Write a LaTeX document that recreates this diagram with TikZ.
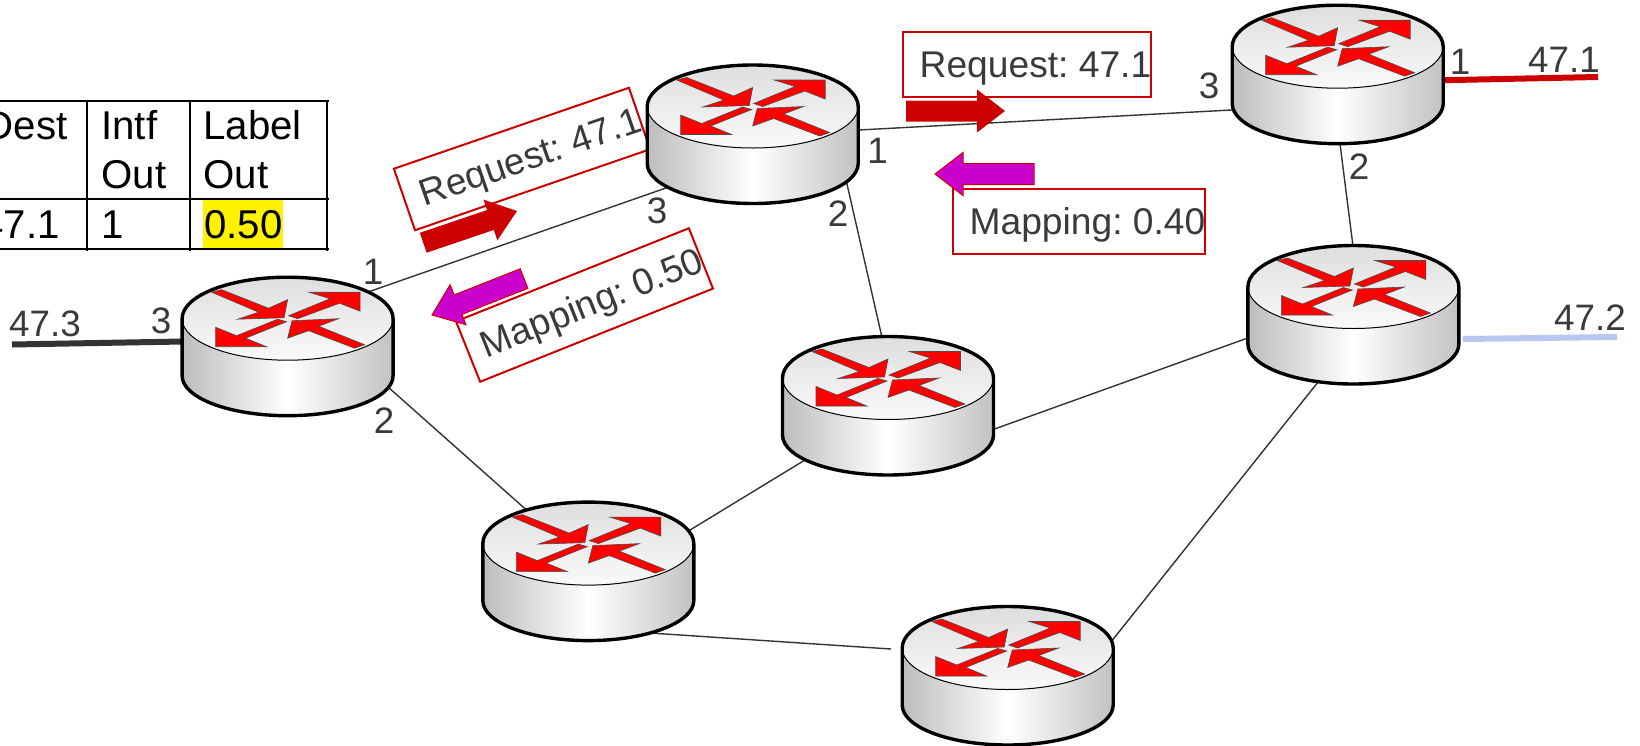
\documentclass[tikz,border=0pt]{standalone}
\usepackage{fontspec}
\setmainfont{Liberation Sans}
\frenchspacing
\definecolor{inktext}{HTML}{3A3A3A}
\definecolor{linkgray}{HTML}{333333}
\definecolor{msgred}{HTML}{CC0000}
\definecolor{msgpurple}{HTML}{CC00CC}
\definecolor{stubblue}{HTML}{B9C6F0}
\tikzset{
  routerspot/.style={inner sep=0pt,minimum width=107pt,minimum height=69pt},
  link/.style={draw=linkgray,line width=0.7pt},
  stub/.style={line width=3pt},
  lbl/.style={font=\fontsize{18.4pt}{20pt}\selectfont,text=inktext,inner sep=0pt},
  cell/.style={font=\fontsize{20.1pt}{22pt}\selectfont,text=black,inner sep=0pt,anchor=base west},
  msgbox/.style={draw=msgred,line width=1pt,inner xsep=0pt,inner ysep=0pt,
    font=\fontsize{18.6pt}{20pt}\selectfont,text=inktext,text height=13pt,text depth=0pt,minimum height=32.5pt},
  grid line/.style={line width=1.1pt,draw=black},
  router/.pic={
    \path[left color=black!26,right color=black!24,middle color=white]
      (-105.5,0) -- (-105.5,57) arc[start angle=180,end angle=360,x radius=52.75pt,y radius=20pt]
      -- (105.5,0) arc[start angle=360,end angle=180,x radius=52.75pt,y radius=20.75pt] -- cycle;
    \path[top color=black!13,bottom color=black!2] (0,0) ellipse[x radius=52.75pt,y radius=20.75pt];
    \draw[black,line width=0.5pt] (-105.5,0) arc[start angle=180,end angle=360,x radius=52.75pt,y radius=20.75pt];
    \draw[black,line width=1.7pt,line join=round]
      (105.5,0) arc[start angle=0,end angle=180,x radius=52.75pt,y radius=20.75pt]
      -- (-105.5,57) arc[start angle=180,end angle=360,x radius=52.75pt,y radius=20pt] -- cycle;
    \begin{scope}[fill=red,draw=black!70,line width=0.3pt]
      \filldraw (-76,-26.5)--(-66,-29)--(-19,-10.5)--(0,-19)--(-3.5,-1)--(-50,0.5)--(-29,-6.5)--cycle;
      \filldraw (1,-3)--(42.5,-20)--(21.5,-26.5)--(72.5,-26.5)--(72.5,-7.5)--(52,-15.5)--(10,0)--cycle;
      \filldraw (-10,0.5)--(-51,17)--(-72,8.5)--(-72,28)--(-21,28)--(-42,19.5)--(-1,3)--cycle;
      \filldraw (77,26)--(31,7.5)--(51,0)--(4.5,2)--(0,19.5)--(21,12)--(67,29.5)--cycle;
    \end{scope}
  },
  flowarrow/.pic={
    \path[pic actions] (0,0)--(-28,-21.5)--(-28,-10.5)--(-99,-10.5)--(-99,10.5)--(-28,10.5)--(-28,21.5)--cycle;
  },
}
\begin{document}
\begin{tikzpicture}[x=0.5pt,y=-0.5pt]
\useasboundingbox (0,0) rectangle (1640,745);
\clip (0,0) rectangle (1640,745);
\fill[white] (0,0) rectangle (1640,745);

% router positions
\node[routerspot] (r1) at (287.6,318.7) {};
\node[routerspot] (r2) at (752.7,106.5) {};
\node[routerspot] (r3) at (1337.7,46.7) {};
\node[routerspot] (r4) at (1353.4,287) {};
\node[routerspot] (r5) at (888,378) {};
\node[routerspot] (r6) at (588.3,543.6) {};
\node[routerspot] (r7) at (1007.7,648) {};

% free ends of the stubs
\coordinate (e473) at (12,344.5);
\coordinate (e471) at (1598,77);
\coordinate (e472) at (1617,337);

% links
\draw[link] ([shift={(62.4,-20.4)}]r1.center) -- ([shift={(-62.7,73.1)}]r2.center);
\draw[link] ([shift={(87.3,24.5)}]r2.center) -- ([shift={(-87.7,62.3)}]r3.center);
\draw[link] ([shift={(88.8,53.5)}]r2.center) -- ([shift={(-2,-23)}]r5.center);
\draw[link] ([shift={(-0.7,73.3)}]r3.center) -- ([shift={(2.6,-17)}]r4.center);
\draw[link] ([shift={(-83.4,43)}]r4.center) -- ([shift={(87,58)}]r5.center);
\draw[link] ([shift={(-65,71)}]r5.center) -- ([shift={(83.7,-2.6)}]r6.center);
\draw[link] ([shift={(82.4,52.3)}]r1.center) -- ([shift={(-48.3,-21.6)}]r6.center);
\draw[link] ([shift={(31.7,87.4)}]r6.center) -- ([shift={(-116.7,1)}]r7.center);
\draw[link] ([shift={(-23.4,80)}]r4.center) -- ([shift={(87.3,14)}]r7.center);

% stubs
\draw[stub,draw=linkgray] ([shift={(-87.6,22.5)}]r1.center) -- (e473);
\draw[stub,draw=msgred] ([shift={(82.3,34)}]r3.center) -- (e471);
\draw[stub,draw=stubblue] ([shift={(109.6,52)}]r4.center) -- (e472);

% table
\fill[yellow] (203,200) rectangle (283,248);
\draw[grid line] (0,101) -- (329,101) (0,199) -- (329,199) (0,249) -- (329,249);
\draw[grid line] (87,100) -- (87,251) (190,100) -- (190,251) (327,100) -- (327,251);
\node[cell,anchor=base east] (tdest) at (68,139) {Dest};
\node[cell] (tintf) at (101,139) {Intf};
\node[cell] (tintfo) at (101,188) {Out};
\node[cell] (tlabel) at (203,139) {Label};
\node[cell] (tlabelo) at (203,188) {Out};
\node[cell,anchor=base east] (tval) at (60,238) {47.1};
\node[cell] (tone) at (101,238) {1};
\node[cell] (tlbl) at (204,238) {0.50};

% messages
\node[msgbox,minimum width=124pt,rotate=19] (m1) at (522,159) {\hspace*{8.5pt}Request: 47.1};
\node[msgbox,minimum width=125pt,rotate=21.8] (m2) at (584.5,305) {\hspace*{7.5pt}Mapping: 0.50};
\node[msgbox,minimum width=124pt] (m3) at (1027,64.5) {\hspace*{8.5pt}Request: 47.1};
\node[msgbox,minimum width=126pt] (m4) at (1079,221) {\hspace*{8.5pt}Mapping: 0.40};

% flow arrows
\pic[fill=msgred,rotate=18.7] at (517,211) {flowarrow};
\pic[fill=msgpurple,draw=msgred,line width=0.5pt,rotate=201.6] at (432,315) {flowarrow};
\pic[fill=msgred] at (1005,111) {flowarrow};
\pic[fill=msgpurple,draw=msgred,line width=0.5pt,rotate=180] at (935,174) {flowarrow};

% routers on top
\foreach \r in {r1,r2,r3,r4,r5,r6,r7} { \pic at (\r.center) {router}; }

% port and prefix labels
\node[lbl] (p1) at (373,272) {1};
\node[lbl] (p2) at (161,321) {3};
\node[lbl] (p3) at (384,421) {2};
\node[lbl] (p4) at (657,211) {3};
\node[lbl] (p5) at (877.5,150.6) {1};
\node[lbl] (p6) at (838,214) {2};
\node[lbl] (p7) at (1209,86) {3};
\node[lbl] (p8) at (1460,62) {1};
\node[lbl] (p9) at (1359,167) {2};
\node[lbl] (n1) at (1564,60) {47.1};
\node[lbl] (n3) at (45,324) {47.3};
\node[lbl] (n2) at (1590,318) {47.2};
\end{tikzpicture}
\end{document}
